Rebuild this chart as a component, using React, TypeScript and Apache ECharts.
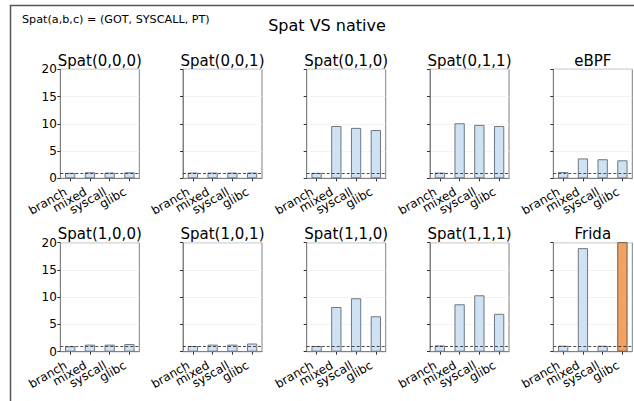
import React, { useEffect, useRef } from "react";
import * as echarts from "echarts";

const categories = ["branch", "mixed", "syscall", "glibc"];
const panelTitles = [
  "Spat(0,0,0)", "Spat(0,0,1)", "Spat(0,1,0)", "Spat(0,1,1)", "eBPF",
  "Spat(1,0,0)", "Spat(1,0,1)", "Spat(1,1,0)", "Spat(1,1,1)", "Frida",
];
const spat000 = [1.0, 1.1, 1.05, 1.1];
const spat001 = [1.05, 1.05, 1.05, 1.05];
const spat010 = [1.0, 9.6, 9.25, 8.85];
const spat011 = [1.05, 10.1, 9.8, 9.6];
const ebpf = [1.15, 3.65, 3.5, 3.3];
const spat100 = [1.0, 1.3, 1.3, 1.4];
const spat101 = [1.05, 1.3, 1.3, 1.5];
const spat110 = [1.05, 8.2, 9.8, 6.5];
const spat111 = [1.15, 8.7, 10.35, 6.95];
const frida = [1.1, 19.0, 1.1, 30.0];
const panelValues = [spat000, spat001, spat010, spat011, ebpf, spat100, spat101, spat110, spat111, frida];
const nativeBaseline = 1;
// highlighted (exceeding) bar: Frida glibc
const highlight = { panel: 9, index: 3 };

const colLefts = [60.3, 183, 306.7, 430, 553.3];
const rowTops = [69.3, 242.7];
const W = 79;
const H = 109;
const FONT = "DejaVu Sans";

export default function App() {
  const ref = useRef<HTMLDivElement>(null);
  useEffect(() => {
    if (!ref.current) return;
    const chart = echarts.init(ref.current, undefined, { renderer: "svg" });
    const grids: any[] = [];
    const xAxes: any[] = [];
    const yAxes: any[] = [];
    const series: any[] = [];
    const graphics: any[] = [];
    panelValues.forEach((vals, i) => {
      const col = i % 5;
      const row = Math.floor(i / 5);
      const left = colLefts[col];
      const top = rowTops[row];
      grids.push({
        left, top, width: W, height: H,
        show: true, borderColor: "#808080", borderWidth: 1, backgroundColor: "#fff",
      });
      xAxes.push({
        type: "category", gridIndex: i, data: categories, boundaryGap: true,
        axisLine: { show: true, onZero: false, lineStyle: { color: "#808080" } },
        axisTick: { show: true, length: 3, alignWithLabel: true, interval: 0, lineStyle: { color: "#333" } },
        splitLine: { show: false },
        axisLabel: {
          show: true, rotate: 30, margin: 10, interval: 0, padding: [0, 5, 0, 0],
          fontSize: 12, fontFamily: FONT, color: "#000",
        },
      });
      yAxes.push({
        type: "value", gridIndex: i, min: 0, max: 20, interval: 5,
        axisLine: { show: true, onZero: false, lineStyle: { color: "#808080" } },
        axisTick: { show: true, length: 3, lineStyle: { color: "#333" } },
        splitLine: { show: true, lineStyle: { color: "#f0f0f0", width: 0.8 } },
        axisLabel: {
          show: col === 0, margin: 3.5, fontSize: 12, fontFamily: FONT, color: "#000",
        },
      });
      series.push({
        type: "bar", xAxisIndex: i, yAxisIndex: i, barWidth: 10.3, clip: true,
        data: vals.map((v, j) => ({
          value: v,
          itemStyle:
            highlight.panel === i && highlight.index === j
              ? { color: "#f4a261", borderColor: "#6b5a4a", borderWidth: 1 }
              : { color: "#cfe2f3", borderColor: "#6f7680", borderWidth: 1 },
        })),
        markLine: {
          silent: true, symbol: "none", label: { show: false },
          lineStyle: { type: [3, 2], color: "#222", width: 0.8 },
          data: [{ yAxis: nativeBaseline }],
        },
      });
      graphics.push({
        type: "text", x: left + W / 2, y: top - 1,
        style: {
          text: panelTitles[i], fontSize: 15, fontFamily: FONT, fill: "#000",
          textAlign: "center", textVerticalAlign: "bottom",
        },
      });
    });
    graphics.push({
      type: "rect", shape: { x: 10.5, y: 5.5, width: 700, height: 500 },
      style: { fill: "none", stroke: "#555", lineWidth: 1.5 }, z: 10,
    });
    graphics.push({
      type: "text", x: 327, y: 25,
      style: {
        text: "Spat VS native", fontSize: 16, fontFamily: FONT, fill: "#000",
        textAlign: "center", textVerticalAlign: "middle",
      },
    });
    graphics.push({
      type: "text", x: 22, y: 19,
      style: {
        text: "Spat(a,b,c) = (GOT, SYSCALL, PT)", fontSize: 11.2, fontFamily: FONT, fill: "#000",
        textAlign: "left", textVerticalAlign: "middle",
      },
    });
    chart.setOption({
      animation: false,
      backgroundColor: "#fff",
      grid: grids,
      xAxis: xAxes,
      yAxis: yAxes,
      series,
      graphic: graphics,
    });
    return () => chart.dispose();
  }, []);
  return (
    <div
      ref={ref}
      style={{ position: "absolute", left: 0, top: 0, width: 634, height: 401 }}
    />
  );
}
